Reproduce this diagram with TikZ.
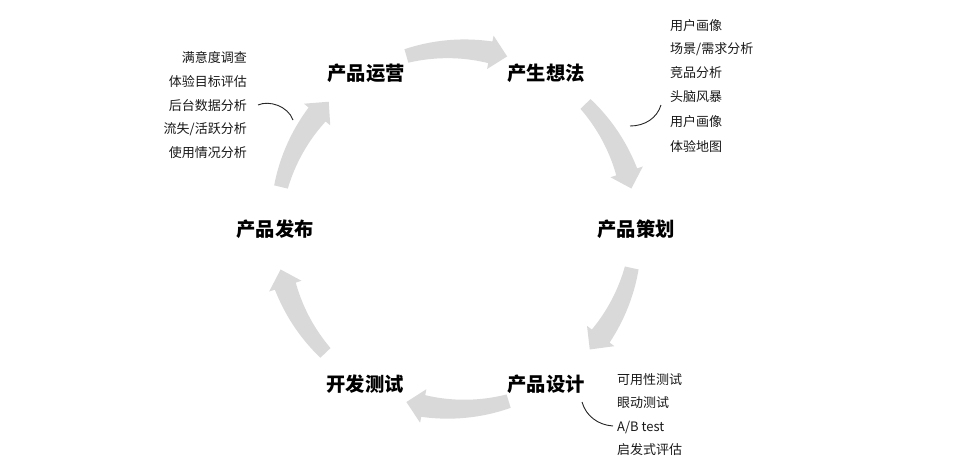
\documentclass[tikz,border=0pt]{standalone}
\usepackage{fontspec}
\setmainfont{Noto Sans CJK SC}
\definecolor{arrowgray}{RGB}{217,217,217}
\tikzset{
  stage/.style={font=\fontsize{19.3}{21}\selectfont\bfseries, inner sep=0pt, text=black},
  item/.style={font=\fontsize{13}{15}\selectfont, inner sep=0pt, text=black!90},
  leader/.style={draw=black!85, line width=0.9pt},
  blockarrow/.style={fill=arrowgray},
}
\newcommand{\cycarrow}[2]{%
  \pgfmathsetmacro{\cyah}{#2+5.5}%
  \fill[blockarrow] plot[domain=0:1,samples=25] ({#1+(\cyah-(#1))*\x}:{187+4*\x})
    -- (\cyah:197) -- (#2:180) -- (\cyah:163)
    -- plot[domain=0:1,samples=25] ({\cyah+((#1)-\cyah)*\x}:{169+4*\x}) -- cycle;}
\begin{document}
\begin{tikzpicture}[x=1pt,y=-1pt]
\useasboundingbox[fill=white] (0,0) rectangle (960,472);
% block arrows
\begin{scope}[shift={(456,229)}, y=1pt]
  \cycarrow{106}{73.5}
  \cycarrow{44}{13}
  \cycarrow{-12.5}{-42}
  \cycarrow{-73}{-106}
  \cycarrow{223.5}{193}
  \cycarrow{166.5}{135}
\end{scope}
% stages
\node[stage] (ops)  at (366,73)  {产品运营};
\node[stage] (idea) at (546,73)  {产生想法};
\node[stage] (plan) at (636,229) {产品策划};
\node[stage] (des)  at (546,384) {产品设计};
\node[stage] (dev)  at (365,384) {开发测试};
\node[stage] (rel)  at (275,229) {产品发布};
% left list
\node[item, anchor=east] (l1) at (247,57)  {满意度调查};
\node[item, anchor=east] (l2) at (247,82)  {体验目标评估};
\node[item, anchor=east] (l3) at (247,106) {后台数据分析};
\node[item, anchor=east] (l4) at (247,129) {流失/活跃分析};
\node[item, anchor=east] (l5) at (247,153) {使用情况分析};
% right list
\node[item, anchor=west] (r1) at (670,26)  {用户画像};
\node[item, anchor=west] (r2) at (670,49)  {场景/需求分析};
\node[item, anchor=west] (r3) at (670,73)  {竞品分析};
\node[item, anchor=west] (r4) at (670,97)  {头脑风暴};
\node[item, anchor=west] (r5) at (670,122) {用户画像};
\node[item, anchor=west] (r6) at (670,147) {体验地图};
% bottom list
\node[item, anchor=west] (b1) at (617,380) {可用性测试};
\node[item, anchor=west] (b2) at (617,403) {眼动测试};
\node[item, anchor=west] (b3) at (617,427) {A/B test};
\node[item, anchor=west] (b4) at (617,450) {启发式评估};
% leader curves
\coordinate (la) at (258,105);
\coordinate (lb) at (293,120);
\coordinate (ra) at (630,126);
\coordinate (rb) at (661,105);
\coordinate (ba) at (582,402);
\coordinate (bb) at (613,426);
\draw[leader] (la) .. controls (269,100) and (288,106) .. (lb);
\draw[leader] (ra) .. controls (645,126) and (657,118) .. (rb);
\draw[leader] (ba) .. controls (586,416) and (598,425) .. (bb);
\end{tikzpicture}
\end{document}
